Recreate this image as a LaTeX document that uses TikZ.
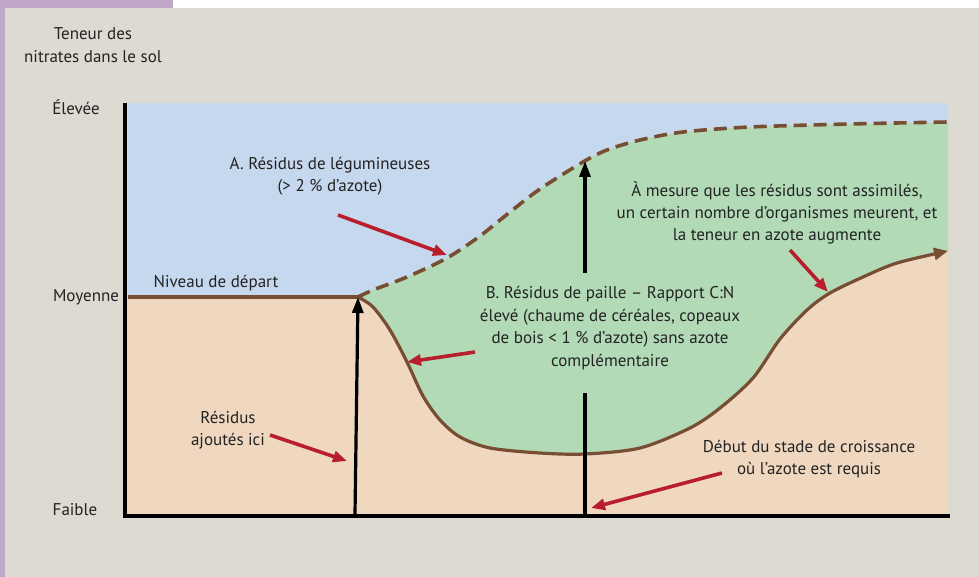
\documentclass[tikz,border=0pt]{standalone}
\usepackage{fontspec}
\setmainfont{PT Sans}
\usetikzlibrary{arrows.meta}

\definecolor{bgbeige}{RGB}{221,218,210}
\definecolor{framepurple}{RGB}{192,166,200}
\definecolor{plotblue}{RGB}{198,216,238}
\definecolor{plotgreen}{RGB}{178,218,182}
\definecolor{plotpeach}{RGB}{240,216,192}
\definecolor{curvebrown}{RGB}{120,78,50}
\definecolor{arrowred}{RGB}{185,30,45}
\definecolor{textgray}{RGB}{35,35,35}

\tikzset{
  lbl/.style={text=textgray, align=center, inner sep=1pt, font=\fontsize{17}{22.4}\selectfont},
  redarrow/.style={draw=arrowred, line width=3.6pt, -{Triangle[length=14pt,width=11pt]}},
  blackarrow/.style={draw=black, line width=3.2pt, -{Triangle[length=16pt,width=11pt]}},
  axis/.style={draw=black, line width=4pt},
  level/.style={draw=curvebrown, line width=3.2pt},
}

\begin{document}
\begin{tikzpicture}[x=1pt,y=-1pt]
% background and frame
\fill[bgbeige] (0,0) rectangle (979,577);
\fill[white] (173,0) rectangle (979,8);
\fill[framepurple] (0,0) rectangle (173,8);
\fill[framepurple] (0,0) rectangle (5,577);
\useasboundingbox (0,0) rectangle (979,577);

% coloured zones
\fill[plotblue] (128,103) rectangle (948,514);
\fill[plotgreen] plot[smooth] coordinates {(358,297) (373,290) (407,277) (447,258) (480,236) (510,212) (540,189) (583,162) (607,150) (640,140) (683,132) (750,127) (850,124) (948,122)}
  -- (948,514) -- (358,514) -- cycle;
\fill[plotpeach] (128,297) -- plot[smooth] coordinates {(358,297) (373,307) (390,330) (407,362) (423,396) (440,420) (460,437) (490,448) (540,453) (585,454) (640,448) (690,428) (720,408) (753,378) (780,339) (807,310) (830,293) (863,277) (897,263) (948,251)}
  -- (948,514) -- (128,514) -- cycle;

% curves
\coordinate (start) at (358,297);
\draw[level] (128,297) -- (start);
\draw[level, line width=3.6pt, dash pattern=on 13pt off 7pt] plot[smooth] coordinates {(358,297) (373,290) (407,277) (447,258) (480,236) (510,212) (540,189) (583,162) (607,150) (640,140) (683,132) (750,127) (850,124) (948,122)};
\draw[level, -{Triangle[length=14pt,width=12pt]}] plot[smooth] coordinates {(358,297) (373,307) (390,330) (407,362) (423,396) (440,420) (460,437) (490,448) (540,453) (585,454) (640,448) (690,428) (720,408) (753,378) (780,339) (807,310) (830,293) (863,277) (897,263) (948,251)};

% axes
\draw[axis] (125,103) -- (125,516) -- (950,516);

% vertical markers
\coordinate (base1) at (355,514);
\coordinate (base2) at (585,514);
\coordinate (gapbot) at (585,393);
\coordinate (gaptop) at (585,273);
\coordinate (peak) at (585,161);
\draw[blackarrow] (base1) -- (start);
\draw[black, line width=3.2pt] (base2) -- (gapbot);
\draw[blackarrow] (gaptop) -- (peak);

% labels
\node[lbl] (ytitle) at (93,45) {Teneur des\\nitrates dans le sol};
\node[lbl] (elevee) at (76,107) {Élevée};
\node[lbl] (moyenne) at (86,297) {Moyenne};
\node[lbl] (faible) at (75,510) {Faible};
\node[lbl] (niveau) at (216,283) {Niveau de départ};
\node[lbl] (legA) at (330,176) {A. Résidus de légumineuses\\(> 2 \% d’azote)};
\node[lbl] (legB) at (610,328) {B. Résidus de paille – Rapport C:N\\élevé (chaume de céréales, copeaux\\de bois < 1 \% d’azote) sans azote\\complémentaire};
\node[lbl] (residus) at (228,430) {Résidus\\ajoutés ici};
\node[lbl] (mesure) at (777,213) {À mesure que les résidus sont assimilés,\\un certain nombre d’organismes meurent, et\\la teneur en azote augmente};
\node[lbl] (debut) at (809,459) {Début du stade de croissance\\où l’azote est requis};

% red pointers
\coordinate (fromA) at (338,215);
\coordinate (toA) at (447,255);
\coordinate (fromB) at (475,352);
\coordinate (toB) at (407,362);
\coordinate (fromR) at (270,435);
\coordinate (toR) at (347,461);
\coordinate (fromM) at (790,250);
\coordinate (toM) at (828,292);
\coordinate (fromD) at (722,473);
\coordinate (toD) at (591,508);
\draw[redarrow] (fromA) -- (toA);
\draw[redarrow] (fromB) -- (toB);
\draw[redarrow] (fromR) -- (toR);
\draw[redarrow] (fromM) -- (toM);
\draw[redarrow] (fromD) -- (toD);
\end{tikzpicture}
\end{document}
